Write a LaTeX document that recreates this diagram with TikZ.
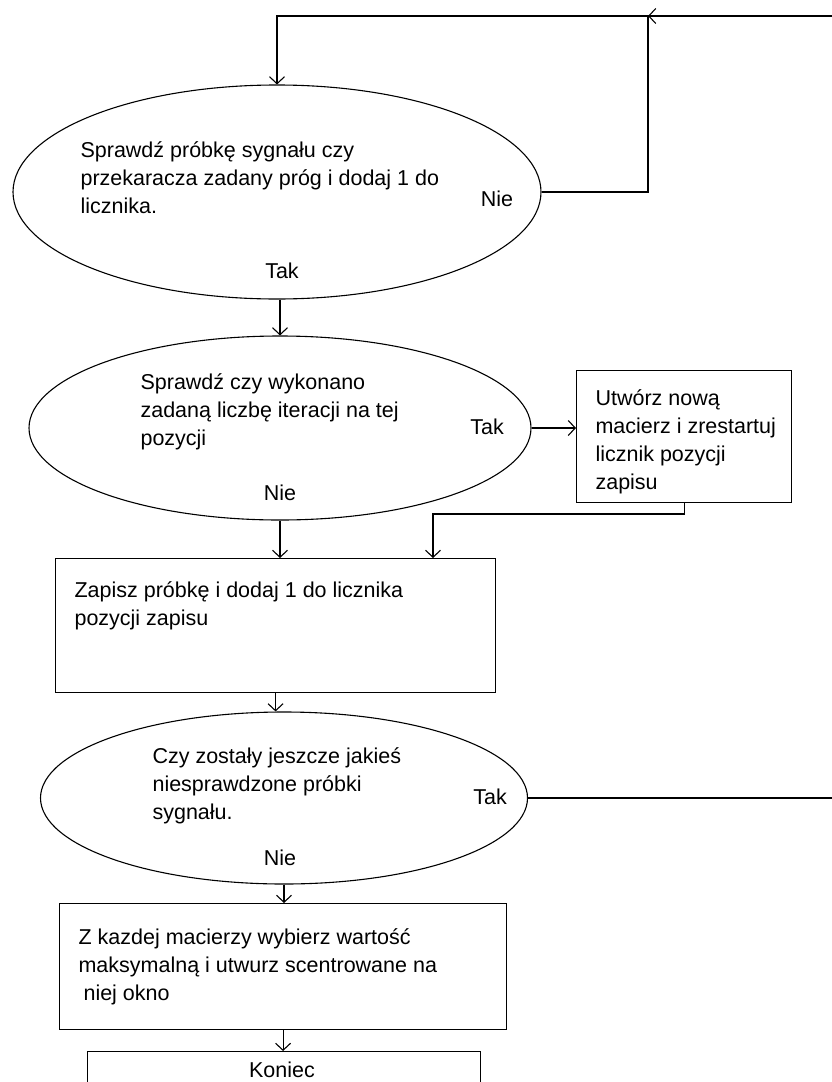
\documentclass[tikz,border=0pt]{standalone}
\usepackage{fontspec}
\setmainfont{Liberation Sans}
\usetikzlibrary{shapes.geometric,arrows.meta}

\begin{document}
\begin{tikzpicture}[x=1pt, y=-1pt, line width=1.1pt,
  >={Straight Barb[length=7pt,width=15pt]},
  every node/.style={font=\fontsize{21.5}{28}\selectfont},
  oval/.style={draw, ellipse, inner sep=0pt},
  box/.style={draw, rectangle, inner sep=0pt, anchor=north west},
  txt/.style={anchor=north west, align=left, inner sep=0pt},
  lbl/.style={inner sep=0pt}]
  \useasboundingbox (0,0) rectangle (831,1082);
  % shapes
  \node[oval, minimum width=528pt, minimum height=214pt] (e1) at (277,192) {};
  \node[oval, minimum width=502pt, minimum height=184pt] (e2) at (280,428) {};
  \node[box, minimum width=215pt, minimum height=132pt] (b1) at (576,370) {};
  \node[box, minimum width=440pt, minimum height=134pt] (b2) at (55,558) {};
  \node[oval, minimum width=487pt, minimum height=172pt] (e3) at (284,798) {};
  \node[box, minimum width=447pt, minimum height=126pt] (b3) at (59,903) {};
  \node[box, minimum width=393pt, minimum height=60pt] (b4) at (87,1051) {};
  % texts
  \node[txt] (t1) at (80,141) {Sprawdź próbkę sygnału czy\\przekaracza zadany próg i dodaj 1 do\\licznika.};
  \node[txt] (t2) at (140,373) {Sprawdź czy wykonano\\zadaną liczbę iteracji na tej\\pozycji};
  \node[txt] (t3) at (595,389) {Utwórz nową\\macierz i zrestartuj\\licznik pozycji\\zapisu};
  \node[txt] (t4) at (74,581) {Zapisz próbkę i dodaj 1 do licznika\\pozycji zapisu};
  \node[txt] (t5) at (152,747) {Czy zostały jeszcze jakieś\\niesprawdzone próbki\\sygnału.};
  \node[txt] (t6) at (78,928) {Z kazdej macierzy wybierz wartość\\maksymalną i utwurz scentrowane na\\\hspace{5pt}niej okno};
  \node[lbl, anchor=base] (koniec) at (282,1077) {Koniec};
  % labels
  \node[lbl] (nie1) at (497,199) {Nie};
  \node[lbl, anchor=base] (tak1) at (282,278) {Tak};
  \node[lbl] (tak2) at (487,427) {Tak};
  \node[lbl] (nie2) at (280,493) {Nie};
  \node[lbl] (tak3) at (490,797) {Tak};
  \node[lbl] (nie3) at (280,858) {Nie};
  % connectors
  \coordinate (join) at (648,16);
  \coordinate (rim) at (836,16);
  \coordinate (bend) at (433,514);
  \draw[->] (e1.east) -| (join) -| (e1.north);
  \draw[->] (e3.east) -| (rim) -- (join);
  \draw[->] (e2.north |- e1.south) -- (e2.north);
  \draw[->] (e2.east) -- (e2.east -| b1.west);
  \draw[->] (e2.south) -- (e2.south |- b2.north);
  \draw[->] (b1.south) |- (bend) -- (bend |- b2.north);
  \draw[->] (b2.south) -- (b2.south |- e3.north);
  \draw[->] (e3.south) -- (e3.south |- b3.north);
  \draw[->] (b3.south) -- (b3.south |- b4.north);
\end{tikzpicture}
\end{document}
